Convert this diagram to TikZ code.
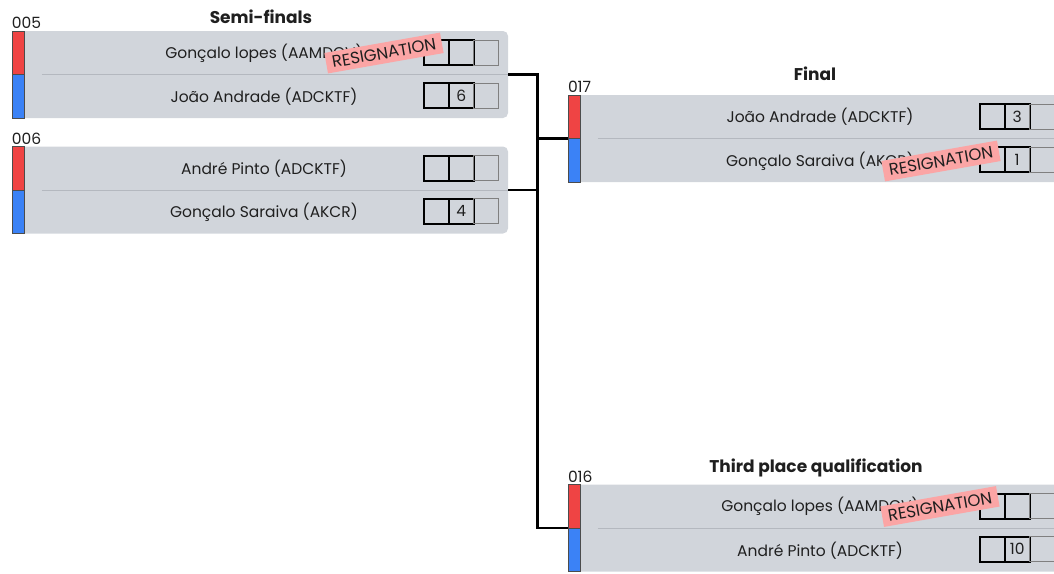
\documentclass[tikz,border=0pt]{standalone}
\usepackage{fontspec}
\setmainfont{Poppins}
\usepackage{xcolor}
\usetikzlibrary{positioning,calc}
\definecolor{brkgray}{HTML}{D1D5DB}
\definecolor{brkline}{HTML}{B4B8BF}
\definecolor{brkred}{HTML}{EF4444}
\definecolor{brkblue}{HTML}{3B82F6}
\definecolor{brkpink}{HTML}{FBA5A5}
\definecolor{brkdark}{HTML}{1F1F1F}
\tikzset{
  match/.style={rectangle,rounded corners=5pt,fill=brkgray,minimum width=496pt,minimum height=87pt,inner sep=0pt},
  title/.style={font=\bfseries\fontsize{17}{20}\selectfont,text=brkdark},
  mid/.style={font=\fontsize{15.5}{18}\selectfont,anchor=south west,inner sep=0pt,text=brkdark},
  plname/.style={font=\fontsize{15.5}{18}\selectfont,text=brkdark},
  cell/.style={draw=black,line width=2pt,minimum size=25pt,inner sep=0pt,outer sep=0pt,font=\fontsize{15}{18}\selectfont,text=brkdark},
  cellx/.style={cell,draw=gray,line width=0.9pt},
  stamp/.style={fill=brkpink,rotate=10,font=\fontsize{16.5}{18}\selectfont,inner xsep=6pt,inner ysep=4.5pt,text=brkdark},
  redbar/.style={fill=brkred,draw=black!70,line width=0.6pt},
  bluebar/.style={fill=brkblue,draw=black!70,line width=0.6pt},
  sepline/.style={draw=brkline,line width=0.8pt},
  link/.style={draw=black,line width=2.6pt},
}

\begin{document}
\begin{tikzpicture}[x=1pt,y=1pt]
  \useasboundingbox (0,0) rectangle (1054,-573);
  \clip (0,0) rectangle (1054,-573);
  % semi-finals
  \node[match] (m005) at (260,-74.5) {};
  \node[match] (m006) at (260,-190) {};
  \node[title] (tsemi) at (261,-17) {Semi-finals};
  % final and third place
  \node[match] (m017) at (816,-138.5) {};
  \node[title] (tfinal) at (815,-74) {Final};
  \node[match] (m016) at (816,-528) {};
  \node[title] (tthird) at (816,-468) {Third place qualification};
  % ids, bars and separators
  \foreach \m in {005,006,017,016}{
    \node[mid] (i\m) at ([yshift=2pt]m\m.north west) {\m};
    \draw[redbar] (m\m.north west) rectangle ($(m\m.west)+(12,0)$);
    \draw[bluebar] (m\m.west) rectangle ($(m\m.south west)+(12,0)$);
    \draw[sepline] ($(m\m.west)+(30,0)$) -- (m\m.east);
    \foreach \r/\dy in {a/22,b/-21}{
      \node[cell] (c\m\r1) at ($(m\m.east)+(-72,\dy)$) {};
      \node[cell] (c\m\r2) at ($(m\m.east)+(-47,\dy)$) {};
      \node[cellx] (c\m\r3) at ($(m\m.east)+(-22,\dy)$) {};
    }
  }
  \node[plname] (p005a) at ($(m005.center)+(4,21.5)$) {Gonçalo lopes (AAMDCV)};
  \node[plname] (p005b) at ($(m005.center)+(4,-22.5)$) {João Andrade (ADCKTF)};
  \node[plname] (p006a) at ($(m006.center)+(4,21.5)$) {André Pinto (ADCKTF)};
  \node[plname] (p006b) at ($(m006.center)+(4,-22.5)$) {Gonçalo Saraiva (AKCR)};
  \node[plname] (p017a) at ($(m017.center)+(4,21.5)$) {João Andrade (ADCKTF)};
  \node[plname] (p017b) at ($(m017.center)+(4,-22.5)$) {Gonçalo Saraiva (AKCR)};
  \node[plname] (p016a) at ($(m016.center)+(4,21.5)$) {Gonçalo lopes (AAMDCV)};
  \node[plname] (p016b) at ($(m016.center)+(4,-22.5)$) {André Pinto (ADCKTF)};
  % scores
  \node[plname] at (c005b2) {6};
  \node[plname] at (c006b2) {4};
  \node[plname] at (c017a2) {3};
  \node[plname] at (c017b2) {1};
  \node[plname] at (c016b2) {10};
  % resignations
  \node[stamp] (r005) at ($(m005.center)+(124,21.5)$) {RESIGNATION};
  \node[stamp] (r017) at ($(m017.center)+(125,-22.5)$) {RESIGNATION};
  \node[stamp] (r016) at ($(m016.center)+(124,21.5)$) {RESIGNATION};
  % bracket
  \draw[link] (m005.east) -- ++(29,0) |- (m017.west);
  \draw[link] (m006.east) -- ++(29,0) |- (m017.west);
  \draw[link] (m005.east) -- ++(29,0) |- (m016.west);
\end{tikzpicture}
\end{document}
